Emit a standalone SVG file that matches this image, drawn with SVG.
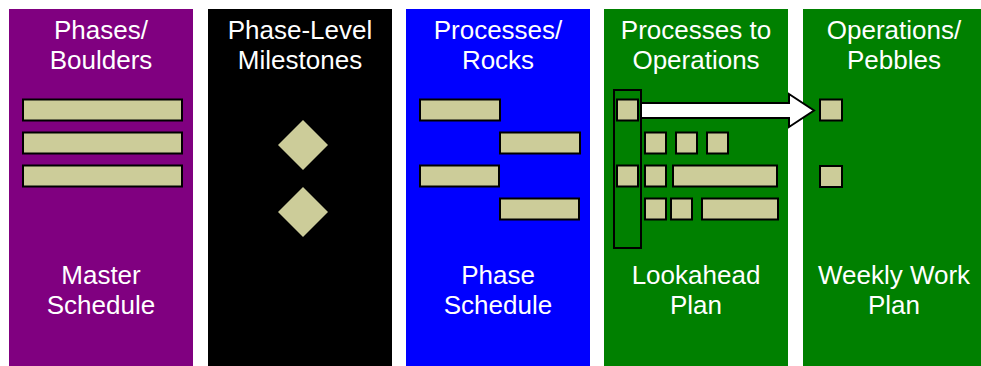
<svg xmlns="http://www.w3.org/2000/svg" width="981" height="366" viewBox="0 0 981 366">
<style>
.col{stroke:none}
.t{font-family:"Liberation Sans",Arial,sans-serif;font-size:26px;fill:#fff;text-anchor:middle}
.bar{fill:#CCCC99;stroke:#000;stroke-width:2}
.dia{fill:#CCCC99;stroke:none}
</style>
<rect width="981" height="366" fill="#fff"/>
<g id="phases">
<rect class="col" x="9" y="9" width="184" height="357" fill="#800080"/>
<text class="t" x="101" y="39">Phases/</text>
<text class="t" x="101" y="69">Boulders</text>
<rect class="bar" x="23" y="99.5" width="159" height="21"/>
<rect class="bar" x="23" y="132.5" width="159" height="21"/>
<rect class="bar" x="23" y="165.5" width="159" height="21"/>
<text class="t" x="101" y="284">Master</text>
<text class="t" x="101" y="314">Schedule</text>
</g>
<g id="milestones">
<rect class="col" x="208" y="9" width="184" height="357" fill="#000"/>
<text class="t" x="300" y="39">Phase-Level</text>
<text class="t" x="300" y="69">Milestones</text>
<polygon class="dia" points="303,120 328,145 303,170 278,145"/>
<polygon class="dia" points="303,187 328,212 303,237 278,212"/>
</g>
<g id="processes">
<rect class="col" x="406" y="9" width="184" height="357" fill="#0000FF"/>
<text class="t" x="498" y="39">Processes/</text>
<text class="t" x="498" y="69">Rocks</text>
<rect class="bar" x="420" y="99.5" width="80" height="21"/>
<rect class="bar" x="500" y="132.5" width="80" height="21"/>
<rect class="bar" x="420" y="165.5" width="79" height="21"/>
<rect class="bar" x="500" y="198.5" width="79" height="21"/>
<text class="t" x="498" y="284">Phase</text>
<text class="t" x="498" y="314">Schedule</text>
</g>
<g id="lookahead">
<rect class="col" x="604" y="9" width="184" height="357" fill="#008000"/>
<text class="t" x="696" y="39">Processes to</text>
<text class="t" x="696" y="69">Operations</text>
<rect x="614" y="90" width="27" height="158" fill="none" stroke="#000" stroke-width="2"/>
<rect class="bar" x="617" y="99.5" width="21" height="21"/>
<rect class="bar" x="645" y="132.5" width="21" height="21"/>
<rect class="bar" x="676" y="132.5" width="21" height="21"/>
<rect class="bar" x="707" y="132.5" width="21" height="21"/>
<rect class="bar" x="617" y="165.5" width="21" height="21"/>
<rect class="bar" x="645" y="165.5" width="21" height="21"/>
<rect class="bar" x="673" y="165.5" width="104" height="21"/>
<rect class="bar" x="645" y="198.5" width="21" height="21"/>
<rect class="bar" x="671" y="198.5" width="21" height="21"/>
<rect class="bar" x="702" y="198.5" width="76" height="21"/>
<text class="t" x="696" y="284">Lookahead</text>
<text class="t" x="696" y="314">Plan</text>
</g>
<g id="weekly">
<rect class="col" x="803" y="9" width="184" height="357" fill="#008000"/>
<text class="t" x="894" y="39">Operations/</text>
<text class="t" x="894" y="69">Pebbles</text>
<rect class="bar" x="820" y="99.5" width="22" height="21"/>
<rect class="bar" x="820" y="166" width="22" height="21"/>
<text class="t" x="894" y="284">Weekly Work</text>
<text class="t" x="894" y="314">Plan</text>
</g>
<g id="connectors">
<polygon points="641,103 789,103 789,94 814,110.5 789,127 789,118 641,118" fill="#fff" stroke="#000" stroke-width="2"/>
</g>
</svg>
